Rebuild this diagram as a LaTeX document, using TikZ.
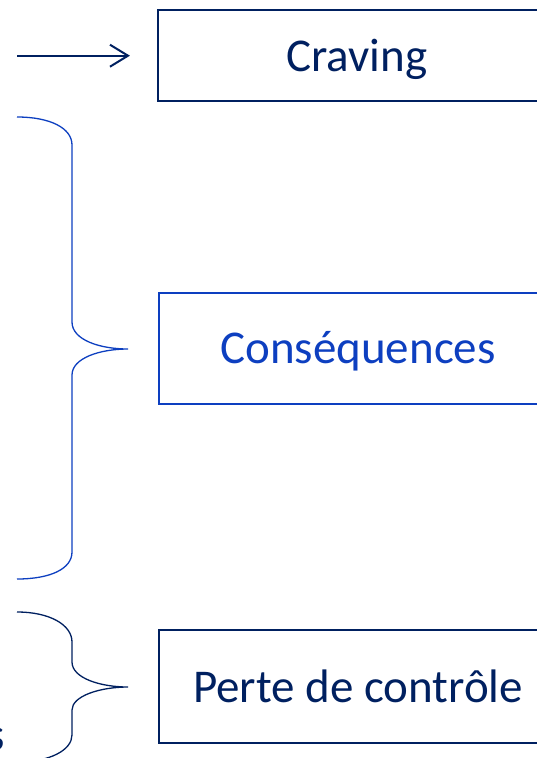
\documentclass[tikz,border=0pt]{standalone}
\usepackage{fontspec}
\setmainfont{Carlito}
\usetikzlibrary{arrows.meta}
\definecolor{navy}{HTML}{002060}
\definecolor{bblue}{HTML}{0D3FC0}
\begin{document}
\begin{tikzpicture}[x=1pt,y=-1pt,
  boxstyle/.style={draw, rectangle, line width=2.2pt, minimum width=398pt, inner sep=0pt,
    text height=31pt, text depth=0pt,
    font=\fontsize{47}{56}\selectfont},
  bracestyle/.style={line width=1.3pt}]
\useasboundingbox (0,0) rectangle (536,758);
\node[boxstyle, navy, text=navy, minimum height=91pt] (craving) at (357,55.5) {Craving};
\node[boxstyle, bblue, text=bblue, minimum height=111pt] (cons) at (358,348.3) {Conséquences};
\node[boxstyle, navy, text=navy, minimum height=113pt] (perte) at (358,686.5) {Perte de contrôle};
\coordinate (astart) at (17,55.7);
\draw[navy, line width=2pt, -{Straight Barb[length=18pt,width=22pt,line width=2pt]}, shorten >=27pt] (astart) -- (craving.west |- astart);
\draw[bracestyle, bblue] (17,117) .. controls (50,117) and (72,128) .. (72,145) -- (72,322)
  .. controls (72,340) and (100,349) .. (128,349)
  .. controls (100,349) and (72,358) .. (72,375) -- (72,552)
  .. controls (72,569) and (50,579) .. (17,579);
\draw[bracestyle, navy] (17,612) .. controls (50,612) and (72,625) .. (72,642) -- (72,662)
  .. controls (72,678) and (100,687) .. (128,687)
  .. controls (100,687) and (72,696) .. (72,710) -- (72,735)
  .. controls (72,750) and (50,762) .. (17,762);
\node[anchor=base east, inner sep=0pt, text=navy, font=\fontsize{47}{56}\selectfont] (frag) at (5,750) {s};
\end{tikzpicture}
\end{document}
